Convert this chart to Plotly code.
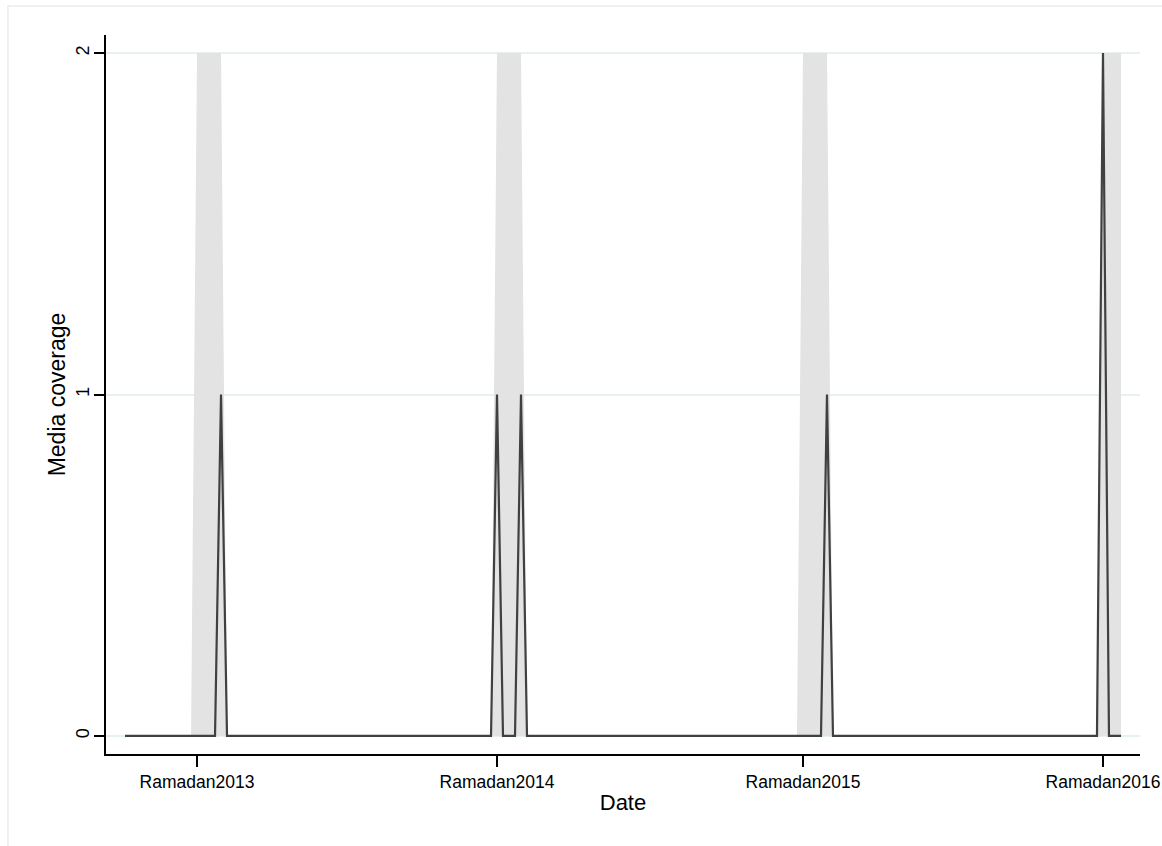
import plotly.graph_objects as go

# Stata weekly dates (%tw): 2013w16 .. 2016w26
first_week = 2771
last_week = 2937

# Media coverage spikes (all other weeks are 0)
spike_weeks = [2787, 2833, 2837, 2888, 2934]
spike_values = [1, 1, 1, 1, 2]

# Ramadan periods (shaded at height 2)
ramadan_start = [2783, 2833, 2884, 2934]
ramadan_end = [2787, 2837, 2888, 2937]
ramadan_height = 2

# x-axis ticks
tick_weeks = [2783, 2833, 2884, 2934]
tick_labels = ["Ramadan2013", "Ramadan2014", "Ramadan2015", "Ramadan2016"]

weeks = list(range(first_week, last_week + 1))
coverage_map = dict(zip(spike_weeks, spike_values))
coverage = [coverage_map.get(w, 0) for w in weeks]
band = []
for w in weeks:
    v = 0
    for s, e in zip(ramadan_start, ramadan_end):
        if s <= w <= e:
            v = ramadan_height
    band.append(v)

fig = go.Figure()
fig.add_trace(go.Scatter(
    x=weeks, y=band, mode="lines", fill="tozeroy",
    fillcolor="#e3e3e3", line=dict(width=0, color="#e3e3e3"),
    hoverinfo="skip", showlegend=False,
))
fig.add_trace(go.Scatter(
    x=weeks, y=coverage, mode="lines",
    line=dict(color="#404040", width=2.2),
    showlegend=False,
))

font = "Liberation Sans, Arial, Helvetica, sans-serif"
fig.update_layout(
    width=1162, height=846,
    paper_bgcolor="white", plot_bgcolor="white",
    margin=dict(l=106, r=22, t=35, b=92, autoexpand=False),
    font=dict(family=font, color="black"),
    xaxis=dict(
        automargin=False,
        range=[2767.83, 2940.17],
        tickmode="array", tickvals=tick_weeks, ticktext=tick_labels,
        ticks="outside", ticklen=11, tickwidth=1.5, tickcolor="black",
        showline=True, linecolor="black", linewidth=1.5,
        showgrid=False, zeroline=False,
        tickfont=dict(size=17.5),
        title=dict(text="Date", font=dict(size=22), standoff=4),
    ),
    yaxis=dict(
        automargin=False,
        range=[-0.0528, 2.053],
        tickmode="array", tickvals=[0, 1, 2], ticktext=["0", "1", "2"],
        tickangle=-90, ticklabelstandoff=-2,
        ticks="outside", ticklen=10, tickwidth=1.5, tickcolor="black",
        showline=True, linecolor="black", linewidth=1.5,
        showgrid=True, gridcolor="#e8f1f2", gridwidth=1.5,
        zeroline=False,
        tickfont=dict(size=18),
        title=dict(text="Media coverage", font=dict(size=23), standoff=1),
    ),
    shapes=[dict(
        type="rect", xref="paper", yref="paper",
        x0=-0.0948, x1=1.2, y0=-0.3, y1=1.0403,
        line=dict(color="#e6eef1", width=1.5), fillcolor="rgba(0,0,0,0)",
        layer="below",
    )],
)

fig.write_html(
    "out.html",
    config={"displayModeBar": False},
    post_script="document.body.style.margin='0px';",
)
